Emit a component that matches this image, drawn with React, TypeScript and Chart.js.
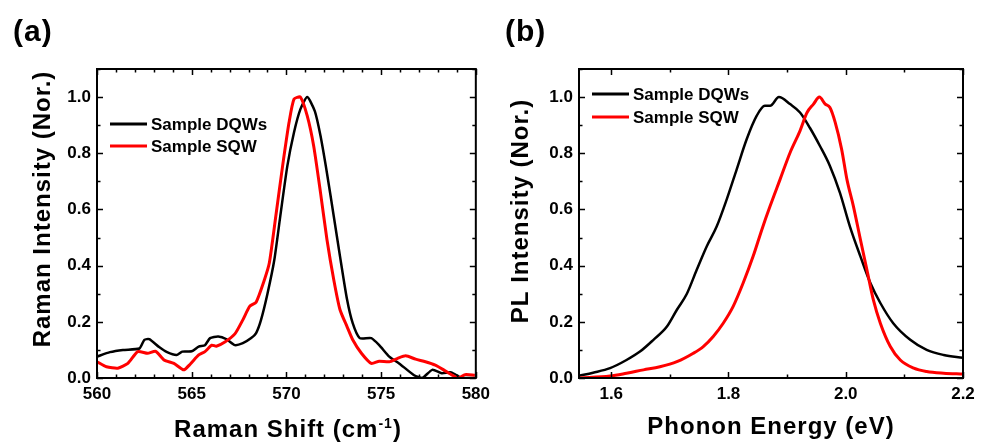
import React, { useEffect, useRef } from "react";
import { Chart, registerables } from "chart.js";

Chart.register(...registerables);

const FONT = '"Liberation Sans", Arial, Helvetica, sans-serif';

// ---------- Panel (a): Raman ----------
const A_X_TICKS = [560, 565, 570, 575, 580];
const A_Y_TICKS = [0, 0.2, 0.4, 0.6, 0.8, 1.0];
const A_DQW_X = [560, 560.68, 561.37, 562.24, 562.5, 562.76, 563.28, 563.7, 564.2, 564.5, 565.0, 565.37, 565.7, 565.97, 566.4, 566.84, 567.28, 567.7, 568.14, 568.4, 568.66, 569.0, 569.36, 569.7, 570.05, 570.4, 570.74, 571.1, 571.5, 571.8, 572.14, 572.5, 572.83, 573.2, 573.5, 573.87, 574.48, 574.9, 575.43, 575.95, 576.74, 577.17, 577.7, 578.2, 578.7, 579.26, 579.86, 580];
const A_DQW_Y = [0.076, 0.092, 0.1, 0.105, 0.136, 0.138, 0.11, 0.092, 0.082, 0.094, 0.095, 0.112, 0.117, 0.142, 0.148, 0.138, 0.117, 0.124, 0.142, 0.16, 0.207, 0.3, 0.42, 0.588, 0.755, 0.874, 0.957, 1.0, 0.95, 0.862, 0.73, 0.576, 0.433, 0.28, 0.195, 0.142, 0.142, 0.117, 0.076, 0.052, 0.01, 0.0, 0.029, 0.017, 0.02, 0.0, 0.0, 0.0];
const A_SQW_X = [560, 560.5, 561.1, 561.63, 562.15, 562.67, 563.1, 563.54, 564.06, 564.58, 564.93, 565.37, 565.7, 566.06, 566.3, 566.75, 567.28, 567.7, 568.06, 568.4, 568.84, 569.1, 569.44, 569.8, 570.14, 570.4, 570.74, 571.1, 571.44, 571.8, 572.14, 572.5, 572.83, 573.2, 573.5, 573.96, 574.48, 574.9, 575.43, 575.87, 576.3, 576.82, 577.34, 577.86, 578.3, 578.73, 579.08, 579.43, 579.95];
const A_SQW_Y = [0.058, 0.04, 0.035, 0.052, 0.094, 0.088, 0.095, 0.064, 0.052, 0.029, 0.05, 0.082, 0.094, 0.117, 0.113, 0.128, 0.157, 0.207, 0.255, 0.27, 0.35, 0.41, 0.576, 0.755, 0.91, 0.993, 1.0, 0.933, 0.826, 0.66, 0.493, 0.35, 0.243, 0.183, 0.136, 0.088, 0.052, 0.06, 0.058, 0.07, 0.079, 0.067, 0.058, 0.046, 0.029, 0.011, 0.0, 0.012, 0.01];

// ---------- Panel (b): PL ----------
const B_X_TICKS = [1.6, 1.8, 2.0, 2.2];
const B_Y_TICKS = [0, 0.2, 0.4, 0.6, 0.8, 1.0];
const B_DQW_X = [1.545, 1.569, 1.598, 1.626, 1.649, 1.672, 1.695, 1.712, 1.729, 1.746, 1.763, 1.78, 1.797, 1.814, 1.831, 1.848, 1.862, 1.871, 1.886, 1.905, 1.922, 1.939, 1.956, 1.973, 1.99, 2.007, 2.025, 2.042, 2.059, 2.081, 2.11, 2.138, 2.167, 2.2];
const B_DQW_Y = [0.008, 0.019, 0.035, 0.064, 0.094, 0.136, 0.183, 0.243, 0.3, 0.386, 0.469, 0.54, 0.636, 0.743, 0.85, 0.933, 0.969, 0.969, 1.0, 0.975, 0.945, 0.89, 0.826, 0.755, 0.66, 0.54, 0.433, 0.338, 0.267, 0.195, 0.136, 0.1, 0.082, 0.072];
const B_SQW_X = [1.545, 1.598, 1.626, 1.655, 1.683, 1.712, 1.74, 1.757, 1.774, 1.791, 1.808, 1.825, 1.842, 1.857, 1.871, 1.888, 1.905, 1.922, 1.934, 1.945, 1.955, 1.965, 1.973, 1.982, 1.993, 2.002, 2.013, 2.025, 2.036, 2.047, 2.059, 2.076, 2.093, 2.116, 2.138, 2.167, 2.2];
const B_SQW_Y = [0.0, 0.007, 0.017, 0.029, 0.04, 0.058, 0.088, 0.112, 0.148, 0.195, 0.255, 0.338, 0.433, 0.529, 0.612, 0.707, 0.802, 0.88, 0.945, 0.975, 1.0, 0.975, 0.963, 0.91, 0.814, 0.707, 0.612, 0.493, 0.386, 0.279, 0.195, 0.112, 0.064, 0.035, 0.023, 0.017, 0.014];

const SERIES_LABELS = ["Sample DQWs", "Sample SQW"];
const SERIES_COLORS = ["#000000", "#ff0000"];

const A_PANEL = "(a)";
const A_X_TITLE = ["Raman Shift (cm", "-1", ")"];
const A_Y_TITLE = "Raman Intensity (Nor.)";
const B_PANEL = "(b)";
const B_X_TITLE = "Phonon Energy (eV)";
const B_Y_TITLE = "PL Intensity (Nor.)";

const pts = (xs: number[], ys: number[]) => xs.map((x, i) => ({ x, y: ys[i] }));

// Frame + inward ticks on all four sides
const frameTicks = {
  id: "frameTicks",
  afterDatasetsDraw(chart: any, _a: any, opts: any) {
    const { ctx, chartArea: ca } = chart;
    const xs = chart.scales.x;
    const ys = chart.scales.y;
    const minorVals = (majors: number[], sub: number, min: number, max: number) => {
      const step = (majors[1] - majors[0]) / sub;
      const out: number[] = [];
      let v = majors[0] - step;
      while (v >= min - 1e-9) { out.push(v); v -= step; }
      for (let i = 0; i < majors.length; i++) {
        for (let k = 1; k < sub; k++) {
          const m = majors[i] + k * step;
          if (m <= max + 1e-9) out.push(m);
        }
      }
      return out;
    };
    ctx.save();
    ctx.strokeStyle = "#000";
    ctx.lineWidth = 1.5;
    const majorLen = 6, minorLen = 3.5;
    const xMaj = opts.xMajor, yMaj = opts.yMajor;
    const xMin = minorVals(xMaj, opts.xSub, xs.min, xs.max);
    const yMin = minorVals(yMaj, opts.ySub, ys.min, ys.max);
    ctx.beginPath();
    const xt = (v: number, len: number) => {
      const p = Math.round(xs.getPixelForValue(v)) + 0.5;
      ctx.moveTo(p, ca.bottom); ctx.lineTo(p, ca.bottom - len);
      ctx.moveTo(p, ca.top); ctx.lineTo(p, ca.top + len);
    };
    const yt = (v: number, len: number) => {
      const p = Math.round(ys.getPixelForValue(v)) + 0.5;
      ctx.moveTo(ca.left, p); ctx.lineTo(ca.left + len, p);
      ctx.moveTo(ca.right, p); ctx.lineTo(ca.right - len, p);
    };
    xMaj.forEach((v: number) => xt(v, majorLen));
    xMin.forEach((v: number) => xt(v, minorLen));
    yMaj.forEach((v: number) => yt(v, majorLen));
    yMin.forEach((v: number) => yt(v, minorLen));
    ctx.stroke();
    ctx.lineWidth = 2;
    ctx.strokeRect(ca.left, ca.top, ca.right - ca.left, ca.bottom - ca.top);
    ctx.restore();
  },
};

// Titles, panel label and legend
const texts = {
  id: "texts",
  afterDraw(chart: any, _a: any, opts: any) {
    const ctx = chart.ctx;
    ctx.save();
    ctx.fillStyle = "#000";
    ctx.textBaseline = "alphabetic";
    ctx.textAlign = "left";
    for (const t of opts.items) {
      ctx.save();
      ctx.translate(t.x, t.y);
      if (t.rotate) ctx.rotate(-Math.PI / 2);
      ctx.letterSpacing = `${t.spacing || 0}px`;
      const widths = t.parts.map((p: any) => {
        ctx.font = `bold ${p.size}px ${FONT}`;
        return ctx.measureText(p.text).width;
      });
      const total = widths.reduce((a: number, b: number) => a + b, 0);
      let cx = t.align === "left" ? 0 : -total / 2;
      t.parts.forEach((p: any, i: number) => {
        ctx.font = `bold ${p.size}px ${FONT}`;
        ctx.fillText(p.text, cx, -(p.rise || 0));
        cx += widths[i];
      });
      ctx.restore();
    }
    // legend
    const lg = opts.legend;
    chart.data.datasets.forEach((ds: any, i: number) => {
      const y = lg.y + i * lg.rowH;
      ctx.strokeStyle = ds.borderColor;
      ctx.lineWidth = 3;
      ctx.beginPath();
      ctx.moveTo(lg.x, y);
      ctx.lineTo(lg.x + lg.len, y);
      ctx.stroke();
      ctx.font = `bold 17px ${FONT}`;
      ctx.textBaseline = "middle";
      ctx.fillStyle = "#000";
      ctx.fillText(ds.label, lg.x + lg.len + 4, y + 1);
    });
    ctx.restore();
  },
};

function makeConfig(p: any) {
  const tickFont = { family: FONT, size: 17, weight: "bold" as const };
  return {
    type: "line",
    data: {
      datasets: [
        {
          label: SERIES_LABELS[0],
          data: pts(p.dqwX, p.dqwY),
          borderColor: SERIES_COLORS[0],
          borderWidth: 2.5,
          pointRadius: 0,
          order: 1,
          ...p.lineOpts,
        },
        {
          label: SERIES_LABELS[1],
          data: pts(p.sqwX, p.sqwY),
          borderColor: SERIES_COLORS[1],
          borderWidth: 3,
          pointRadius: 0,
          order: 0,
          ...p.lineOpts,
        },
      ],
    },
    options: {
      animation: false,
      responsive: false,
      devicePixelRatio: 1,
      events: [],
      layout: { padding: { left: 0, right: p.padRight, top: 69, bottom: 0 } },
      plugins: {
        legend: { display: false },
        tooltip: { enabled: false },
        title: { display: false },
        frameTicks: { xMajor: p.xTicks, yMajor: p.yTicks, xSub: p.xSub, ySub: 2 },
        texts: { items: p.texts, legend: p.legend },
      },
      scales: {
        x: {
          type: "linear",
          min: p.xMin,
          max: p.xMax,
          afterBuildTicks: (s: any) => { s.ticks = p.xTicks.map((v: number) => ({ value: v })); },
          afterFit: (s: any) => { s.height = 64; },
          grid: { display: false, drawTicks: false },
          border: { display: false },
          ticks: {
            padding: 6,
            color: "#000",
            font: tickFont,
            maxRotation: 0,
            autoSkip: false,
            callback: (v: any) => p.xFmt(Number(v)),
          },
        },
        y: {
          type: "linear",
          min: 0,
          max: 1.1,
          afterBuildTicks: (s: any) => { s.ticks = p.yTicks.map((v: number) => ({ value: v })); },
          afterFit: (s: any) => { s.width = p.yWidth; },
          grid: { display: false, drawTicks: false },
          border: { display: false },
          ticks: {
            padding: 6,
            color: "#000",
            font: tickFont,
            autoSkip: false,
            callback: (v: any) => Number(v).toFixed(1),
          },
        },
      },
    },
    plugins: [frameTicks, texts],
  };
}

const CONFIG_A = () =>
  makeConfig({
    dqwX: A_DQW_X, dqwY: A_DQW_Y, sqwX: A_SQW_X, sqwY: A_SQW_Y,
    lineOpts: { tension: 0.2 },
    xMin: 560, xMax: 580, xTicks: A_X_TICKS, yTicks: A_Y_TICKS, xSub: 5,
    xFmt: (v: number) => String(Math.round(v)),
    yWidth: 97, padRight: 15,
    legend: { x: 110, y: 124, rowH: 22, len: 37 },
    texts: [
      { x: 13, y: 41, align: "left", spacing: 1, parts: [{ text: A_PANEL, size: 30 }] },
      { x: 50, y: 209, rotate: true, spacing: 1, parts: [{ text: A_Y_TITLE, size: 24 }] },
      {
        x: 288, y: 437, spacing: 1,
        parts: [
          { text: A_X_TITLE[0], size: 24 },
          { text: A_X_TITLE[1], size: 14, rise: 9 },
          { text: A_X_TITLE[2], size: 24 },
        ],
      },
    ],
  });

const CONFIG_B = () =>
  makeConfig({
    dqwX: B_DQW_X, dqwY: B_DQW_Y, sqwX: B_SQW_X, sqwY: B_SQW_Y,
    lineOpts: { cubicInterpolationMode: "monotone" },
    xMin: 1.545, xMax: 2.2, xTicks: B_X_TICKS, yTicks: B_Y_TICKS, xSub: 2,
    xFmt: (v: number) => v.toFixed(1),
    yWidth: 83, padRight: 23,
    legend: { x: 96, y: 94, rowH: 23, len: 37 },
    texts: [
      { x: 9, y: 41, align: "left", spacing: 1, parts: [{ text: B_PANEL, size: 30 }] },
      { x: 32, y: 211, rotate: true, spacing: 1, parts: [{ text: B_Y_TITLE, size: 24 }] },
      { x: 275, y: 434, spacing: 1, parts: [{ text: B_X_TITLE, size: 24 }] },
    ],
  });

function Panel({ make, left, width }: { make: () => any; left: number; width: number }) {
  const ref = useRef<HTMLCanvasElement>(null);
  useEffect(() => {
    const chart = new Chart(ref.current as HTMLCanvasElement, make());
    return () => chart.destroy();
  }, [make]);
  return (
    <canvas
      ref={ref}
      width={width}
      height={442}
      style={{ position: "absolute", left, top: 0, width, height: 442 }}
    />
  );
}

export default function App() {
  return (
    <div style={{ position: "fixed", left: 0, top: 0, width: 986, height: 442, background: "#fff" }}>
      <Panel make={CONFIG_A} left={0} width={496} />
      <Panel make={CONFIG_B} left={496} width={490} />
    </div>
  );
}
